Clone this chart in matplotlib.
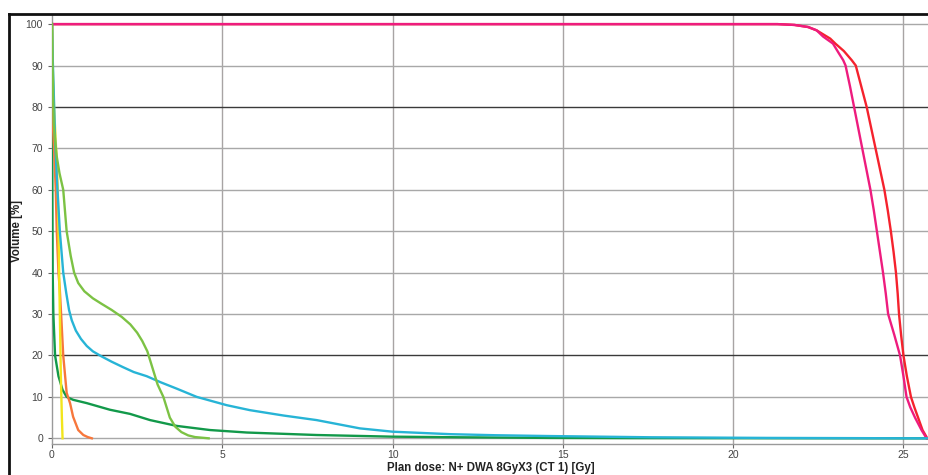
import matplotlib
matplotlib.use("Agg")
import matplotlib.pyplot as plt
from matplotlib.lines import Line2D

# ---- data ----
magenta_dose = [0, 21.3, 21.8, 22.2, 22.45, 22.64, 22.93, 23.1, 23.23, 23.3, 23.43, 23.55,
                23.67, 23.79, 23.91, 24.03, 24.13, 24.22, 24.31, 24.40, 24.48, 24.55,
                24.73, 24.90, 25.0, 25.09, 25.2, 25.34, 25.53, 25.68]
magenta_vol = [100, 100, 99.8, 99.3, 98.5, 97, 95.3, 93, 91.3, 90, 85, 80,
               75, 70, 65, 60, 55, 50, 45, 40, 35, 30,
               25, 20, 15, 10, 7.5, 5, 2, 0]

red_dose = [0, 21.3, 21.8, 22.2, 22.45, 22.65, 22.85, 23.0, 23.25, 23.48, 23.6, 23.76,
            23.92, 24.05, 24.18, 24.31, 24.44, 24.54, 24.63, 24.71, 24.78, 24.83,
            24.87, 24.93, 25.0, 25.1, 25.22, 25.32, 25.43, 25.56, 25.70]
red_vol = [100, 100, 99.8, 99.3, 98.5, 97.5, 96.5, 95.3, 93.5, 91.3, 90, 85,
           80, 75, 70, 65, 60, 55, 50, 45, 40, 35,
           30, 25, 20, 15, 10, 7.5, 5, 2, 0]

lgreen_dose = [0, 0.02, 0.05, 0.09, 0.14, 0.22, 0.33, 0.43, 0.55, 0.65, 0.77, 0.95, 1.2,
               1.45, 1.75, 2.05, 2.3, 2.5, 2.65, 2.8, 2.95, 3.1, 3.27, 3.46, 3.62, 3.8,
               4.0, 4.2, 4.6]
lgreen_vol = [100, 88, 76, 72, 68, 64, 60, 50, 44, 40, 37.5, 35.5, 33.8,
              32.5, 31, 29.3, 27.5, 25.5, 23.5, 21, 17, 13, 10, 5, 2.8, 1.5,
              0.7, 0.3, 0]

cyan_dose = [0, 0.02, 0.05, 0.09, 0.16, 0.23, 0.28, 0.33, 0.42, 0.5, 0.58, 0.7, 0.85,
             1.02, 1.2, 1.45, 1.75, 2.08, 2.4, 2.78, 3.2, 3.66, 4.25, 5.13, 5.81, 6.8,
             7.77, 9.04, 10.0, 11.7, 13.0, 14.6, 17.6, 21.0, 25.7]
cyan_vol = [100, 92, 84, 72, 60, 50, 45, 40, 35, 31, 28.5, 26, 24,
            22.3, 21, 19.8, 18.5, 17.2, 16, 15, 13.5, 12, 10, 8, 6.8, 5.5,
            4.4, 2.4, 1.6, 1.0, 0.75, 0.55, 0.25, 0.1, 0]

dgreen_dose = [0, 0.005, 0.01, 0.02, 0.04, 0.09, 0.19, 0.31, 0.43, 0.62, 1.02, 1.7,
               2.29, 2.88, 3.66, 4.64, 5.72, 7.77, 10.0, 12.0, 14.6, 17.0, 25.7]
dgreen_vol = [100, 80, 60, 40, 30, 20, 15, 11.7, 10, 9.3, 8.5, 6.9,
              5.9, 4.4, 3, 2, 1.4, 0.8, 0.4, 0.25, 0.1, 0.05, 0]

orange_dose = [0, 0.01, 0.03, 0.06, 0.11, 0.14, 0.19, 0.23, 0.28, 0.33, 0.43, 0.53,
               0.62, 0.77, 0.92, 1.05, 1.17]
orange_vol = [100, 85, 75, 70, 60, 50, 40, 35.8, 28, 20, 11, 8.5,
              5.2, 2, 0.8, 0.3, 0]

yellow_dose = [0, 0.02, 0.06, 0.12, 0.17, 0.19, 0.21, 0.23, 0.26, 0.29, 0.31]
yellow_vol = [100, 90, 80, 70, 60, 50, 40, 30, 15, 5, 0]

x_ticks = [0, 5, 10, 15, 20, 25]
y_ticks = [0, 10, 20, 30, 40, 50, 60, 70, 80, 90, 100]
x_label = "Plan dose: N+ DWA 8GyX3 (CT 1) [Gy]"
y_label = "Volume [%]"

# ---- figure ----
plt.rcParams['font.family'] = ['Liberation Sans', 'DejaVu Sans']
fig = plt.figure(figsize=(9.29, 4.75), dpi=100)
W, H = 929, 475
ax = fig.add_axes([52 / W, (H - 443.5) / H, (W - 52) / W, (443.5 - 15) / H])

ax.set_xlim(0, 25.75)
ax.set_ylim(-1.25, 102.2)

# grid
for v in x_ticks[1:]:
    ax.axvline(v, color='#a8a4a4', lw=1.0, zorder=1)
for v in y_ticks:
    c = '#3a3a3a' if v in (20, 80) else '#a8a8a8'
    ax.axhline(v, color=c, lw=1.0, zorder=1)

lw = 1.7
ax.plot(dgreen_dose, dgreen_vol, color='#12994a', lw=lw, zorder=3)
ax.plot(orange_dose, orange_vol, color='#f7773c', lw=lw, zorder=3)
ax.plot(yellow_dose, yellow_vol, color='#f2e51c', lw=lw, zorder=3)
ax.plot(red_dose, red_vol, color='#f5222d', lw=lw, zorder=3)
ax.plot(magenta_dose, magenta_vol, color='#ee1c7e', lw=lw, zorder=3)
ax.plot(cyan_dose, cyan_vol, color='#27b4d6', lw=lw, zorder=3)
ax.plot(lgreen_dose, lgreen_vol, color='#7cc244', lw=lw, zorder=4)

ax.set_xticks(x_ticks)
ax.set_yticks(y_ticks)
ax.tick_params(axis='both', labelsize=7.5, colors='#666666', labelcolor='#444444',
               length=3, width=0.8)
ax.tick_params(axis='x', pad=2)
for s in ['top', 'right']:
    ax.spines[s].set_visible(False)
for s in ['left', 'bottom']:
    ax.spines[s].set_color('#9a9a9a')
    ax.spines[s].set_linewidth(1.0)

ax.set_xlabel(x_label, fontsize=8.3, fontweight='bold', color='#222222', labelpad=1)
ax.set_ylabel(y_label, fontsize=8.3, fontweight='bold', color='#222222')
ax.yaxis.set_label_coords((23 - 52) / (W - 52), 0.495)

# outer black frame (panel border)
fig.add_artist(Line2D([8.5 / W, 8.5 / W], [0, (H - 14) / H], transform=fig.transFigure,
                      color='#111111', lw=2.0))
fig.add_artist(Line2D([8.5 / W, 1.0], [(H - 14) / H, (H - 14) / H], transform=fig.transFigure,
                      color='#111111', lw=2.0))

fig.savefig("out.png", dpi=100)
